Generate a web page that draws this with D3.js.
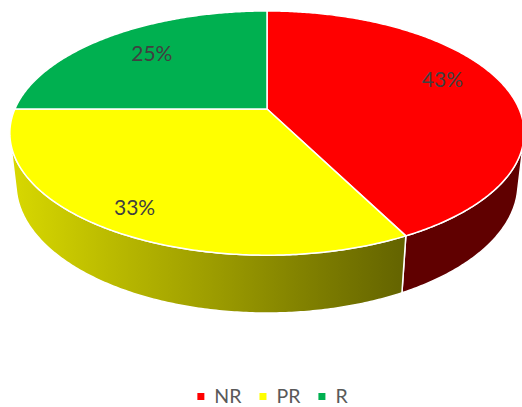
<!DOCTYPE html>
<html>
<head>
<meta charset="utf-8">
<script src="https://cdn.jsdelivr.net/npm/d3@7"></script>
<style>
  html, body { margin: 0; padding: 0; background: #fff; }
  svg { display: block; }
</style>
</head>
<body>
<div id="chart"></div>
<script>
// data
const categories = ['NR', 'PR', 'R'];
const counts = [17, 13, 10];
const topColors = ['#ff0000', '#ffff00', '#00b050'];
const legendColors = ['#ff0000', '#ffff00', '#00b050'];

// layout (label placement along the slice bisector, like Excel's best fit)
const labelRadius = [0.74, 0.86, 0.71];
const labelShift = [-10, -2, -2];

const width = 522, height = 407;
const cx = 267, cy = 109;       // projected pie centre
const focal = 1132, dist = 4.49; // perspective camera
const tilt = Math.asin(0.4655);
const depth = 0.23;              // thickness of the pie, in radii

const svg = d3.select('#chart').append('svg')
  .attr('width', width)
  .attr('height', height);

// project a point of the unit pie (angle clockwise from 12 o'clock) to screen
function project(theta, r, y) {
  const X = r * Math.sin(theta), Z = -r * Math.cos(theta);
  const dep = y * Math.sin(tilt) + Z * Math.cos(tilt);
  const up = y * Math.cos(tilt) - Z * Math.sin(tilt);
  const s = focal / (dist - dep);
  return [cx + X * s, cy - up * s];
}

function arcPoints(a0, a1, r, y) {
  const n = Math.max(2, Math.ceil((a1 - a0) / 0.01));
  return d3.range(n + 1).map(i => project(a0 + (a1 - a0) * i / n, r, y));
}

const line = d3.line().curve(d3.curveLinearClosed);

const pie = d3.pie().sort(null).value(d => d.count);
const pieData = pie(categories.map((c, i) => ({ label: c, count: counts[i], color: topColors[i] })));
const total = d3.sum(counts);

// side wall gradient (yellow) and flat dark red
const defs = svg.append('defs');
const grad = defs.append('linearGradient')
  .attr('id', 'wallPR')
  .attr('gradientUnits', 'userSpaceOnUse')
  .attr('x1', 12).attr('x2', 402).attr('y1', 0).attr('y2', 0);
grad.append('stop').attr('offset', 0).attr('stop-color', '#d8d800');
grad.append('stop').attr('offset', 1).attr('stop-color', '#646400');
const wallFill = ['#600000', 'url(#wallPR)', '#006030'];

// visible part of the side wall
const cosLimit = -1 / (dist * Math.cos(tilt));
const wMin = Math.acos(cosLimit), wMax = 2 * Math.PI - wMin;

const walls = svg.append('g');
pieData.forEach((d, i) => {
  const a0 = Math.max(d.startAngle, wMin), a1 = Math.min(d.endAngle, wMax);
  if (a1 <= a0) return;
  const pts = arcPoints(a0, a1, 1, 0).concat(arcPoints(a0, a1, 1, -depth).reverse());
  walls.append('path')
    .attr('d', line(pts))
    .attr('fill', wallFill[i])
    .attr('stroke', '#fff')
    .attr('stroke-width', 1.5)
    .attr('stroke-linejoin', 'round');
});

// top faces
const tops = svg.append('g');
tops.selectAll('path')
  .data(pieData)
  .enter()
  .append('path')
  .attr('d', d => line([project(0, 0, 0)].concat(arcPoints(d.startAngle, d.endAngle, 1, 0))))
  .attr('fill', d => d.data.color)
  .attr('stroke', '#fff')
  .attr('stroke-width', 1.5)
  .attr('stroke-linejoin', 'round');

// percentage labels
tops.selectAll('text')
  .data(pieData)
  .enter()
  .append('text')
  .attr('transform', (d, i) => {
    const p = project((d.startAngle + d.endAngle) / 2, labelRadius[i], 0);
    return `translate(${p[0]},${p[1] + labelShift[i]})`;
  })
  .attr('text-anchor', 'middle')
  .attr('dy', '0.35em')
  .style('font-family', 'Lato, "Open Sans", sans-serif')
  .style('font-size', '21px')
  .style('fill', '#404040')
  .text(d => `${Math.round(d.data.count / total * 100)}%`);

// legend
const legend = svg.append('g');
const items = legend.selectAll('g')
  .data(categories)
  .enter()
  .append('g');
items.append('rect')
  .attr('width', 7)
  .attr('height', 7)
  .attr('y', -10)
  .attr('fill', (d, i) => legendColors[i]);
items.append('text')
  .attr('x', 17)
  .style('font-family', 'Lato, "Open Sans", sans-serif')
  .style('font-size', '19.5px')
  .style('fill', '#595959')
  .text(d => d);

let x = 0;
items.each(function() {
  const w = 17 + d3.select(this).select('text').node().getComputedTextLength();
  d3.select(this).attr('transform', `translate(${x},0)`);
  x += w + 18;
});
const legendWidth = x - 18;
legend.attr('transform', `translate(${272.5 - legendWidth / 2},403)`);
</script>
</body>
</html>
